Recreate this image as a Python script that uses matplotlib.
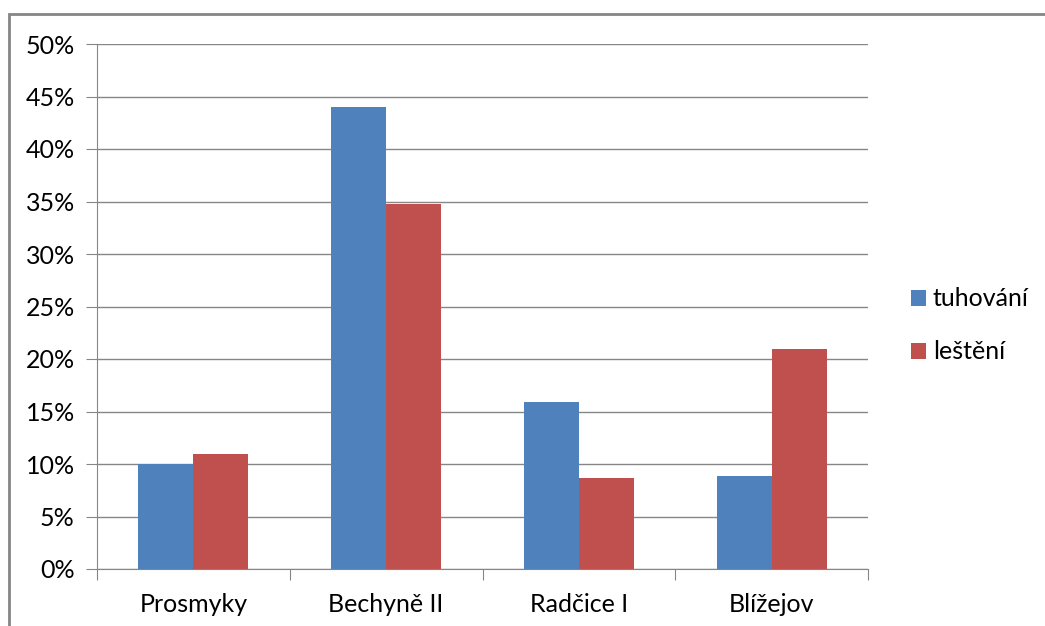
import matplotlib.pyplot as plt
import numpy as np
from matplotlib.patches import Rectangle
from matplotlib.ticker import FuncFormatter

plt.rcParams['font.family'] = ['Lato', 'DejaVu Sans']

# data (percent)
sites = ['Prosmyky', 'Bechyně II', 'Radčice I', 'Blížejov']
tuhovani = [10.0, 44.0, 15.9, 8.9]
lesteni = [11.0, 34.8, 8.7, 21.0]
series_names = ['tuhování', 'leštění']

blue = '#4F81BD'
red = '#C0504D'
grid_col = '#868686'
fs = 18

W, H = 1045, 626
fig = plt.figure(figsize=(W / 100, H / 100), dpi=100)

# outer chart border (cut off on right and bottom like the screenshot)
fig.patches.append(Rectangle((9 / W, -0.1), 1.2, (H - 14) / H + 0.1,
                             transform=fig.transFigure, fill=False,
                             edgecolor='#858585', linewidth=2))

ax = fig.add_axes([97 / W, (H - 569) / H, (868 - 97) / W, (569 - 44) / H])

x = np.arange(len(sites))
w = 55 / 193
ax.bar(x - w / 2, tuhovani, w, color=blue, label=series_names[0], zorder=3)
ax.bar(x + w / 2, lesteni, w, color=red, label=series_names[1], zorder=3)

ax.set_xlim(-0.5, len(sites) - 0.5)
ax.set_ylim(0, 50)
ax.set_yticks(np.arange(0, 51, 5))
ax.yaxis.set_major_formatter(FuncFormatter(lambda v, p: f'{v:.0f}%'))
ax.grid(axis='y', color=grid_col, linewidth=1, zorder=0)

ax.set_xticks(np.arange(-0.5, len(sites), 1))
ax.set_xticklabels([])
ax.set_xticks(x, minor=True)
ax.set_xticklabels(sites, minor=True, fontsize=fs)
ax.tick_params(axis='x', which='major', length=8, color=grid_col)
ax.tick_params(axis='x', which='minor', length=0, pad=17)
ax.tick_params(axis='y', length=8, color=grid_col, pad=8, labelsize=fs)

for s in ['top', 'right']:
    ax.spines[s].set_visible(False)
for s in ['left', 'bottom']:
    ax.spines[s].set_color(grid_col)

ax.legend(loc='center left', bbox_to_anchor=((889 - 97) / (868 - 97), 0.464),
          frameon=False, fontsize=fs, handlelength=0.6, handleheight=0.6,
          handletextpad=0.25, labelspacing=1.2)

fig.savefig('out.png', dpi=100)
